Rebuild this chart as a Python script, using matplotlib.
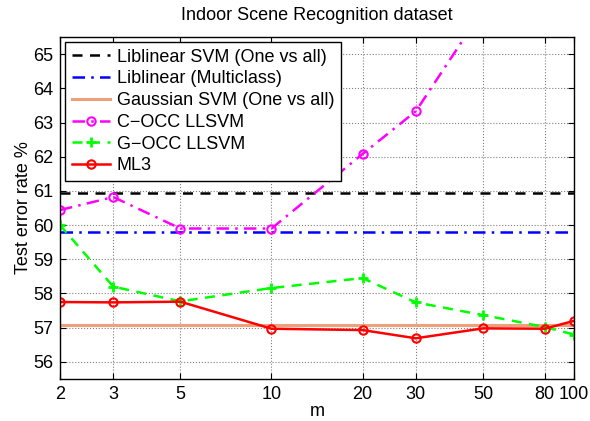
import numpy as np
import matplotlib
matplotlib.use("Agg")
import matplotlib.pyplot as plt

plt.rcParams['font.family'] = ['Liberation Sans', 'DejaVu Sans']

# m values (log x axis)
m_vals = [2, 3, 5, 10, 20, 30, 50, 80, 100]
m_ticks = ['2', '3', '5', '10', '20', '30', '50', '80', '100']

# flat baselines
liblinear_ova = 60.93
liblinear_multi = 59.8
gaussian_ova = 57.07

# series
c_occ = [60.44, 60.82, 59.9, 59.9, 62.08, 63.33, 66.3, 68.5, 69.5]
g_occ = [60.0, 58.2, 57.77, 58.16, 58.45, 57.74, 57.37, 57.02, 56.8]
ml3 = [57.75, 57.74, 57.76, 56.97, 56.93, 56.69, 56.98, 56.97, 57.2]

fig = plt.figure(figsize=(5.9, 4.21), dpi=100)
ax = fig.add_axes([0.1017, 0.0998, 0.8713, 0.8123])

ax.plot(m_vals, [liblinear_ova]*len(m_vals), 'k--', lw=1.8, dashes=(4, 3),
        label='Liblinear SVM (One vs all)')
ax.plot(m_vals, [liblinear_multi]*len(m_vals), color='#0000ff', ls='-.', lw=1.8,
        dashes=(5, 2.5, 1, 2.5), label='Liblinear (Multiclass)')
ax.plot(m_vals, [gaussian_ova]*len(m_vals), color='#eea07a', lw=2.2,
        label='Gaussian SVM (One vs all)')
ax.plot(m_vals, c_occ, color='#ff00ff', ls='-.', lw=1.8, dashes=(5, 2.5, 1, 2.5),
        marker='o', mfc='none', mec='#ff00ff', ms=6, mew=1.5, label='C\u2212OCC LLSVM')
ax.plot(m_vals, g_occ, color='#00ff00', ls='--', lw=1.8, dashes=(4, 3),
        marker='+', ms=7, mew=2, label='G\u2212OCC LLSVM')
ax.plot(m_vals, ml3, color='#ff0000', lw=1.8, marker='o', mfc='none',
        mec='#ff0000', ms=6, mew=1.5, label='ML3')

ax.set_xscale('log')
ax.set_xlim(2, 100)
ax.set_ylim(55.5, 65.5)
ax.set_xticks(m_vals)
ax.set_xticklabels(m_ticks)
ax.xaxis.set_minor_locator(plt.NullLocator())
ax.set_yticks(np.arange(56, 66, 1))
ax.tick_params(direction='in', top=True, right=True, labelsize=13, length=4, pad=5)
ax.grid(True, ls=':', color='#808080', lw=0.8)
for s in ax.spines.values():
    s.set_linewidth(1.0)

ax.set_xlabel('m', fontsize=13, labelpad=0)
ax.set_ylabel('Test error rate %', fontsize=13, labelpad=0.5)
ax.set_title('Indoor Scene Recognition dataset', fontsize=13, pad=12)

leg = ax.legend(loc='upper left', fontsize=13, frameon=True, fancybox=False,
                edgecolor='k', framealpha=1, borderaxespad=0.3, handlelength=2.1,
                labelspacing=0.26, borderpad=0.35, handletextpad=0.4)
leg.get_frame().set_linewidth(1.0)

fig.savefig('out.png', dpi=100)
